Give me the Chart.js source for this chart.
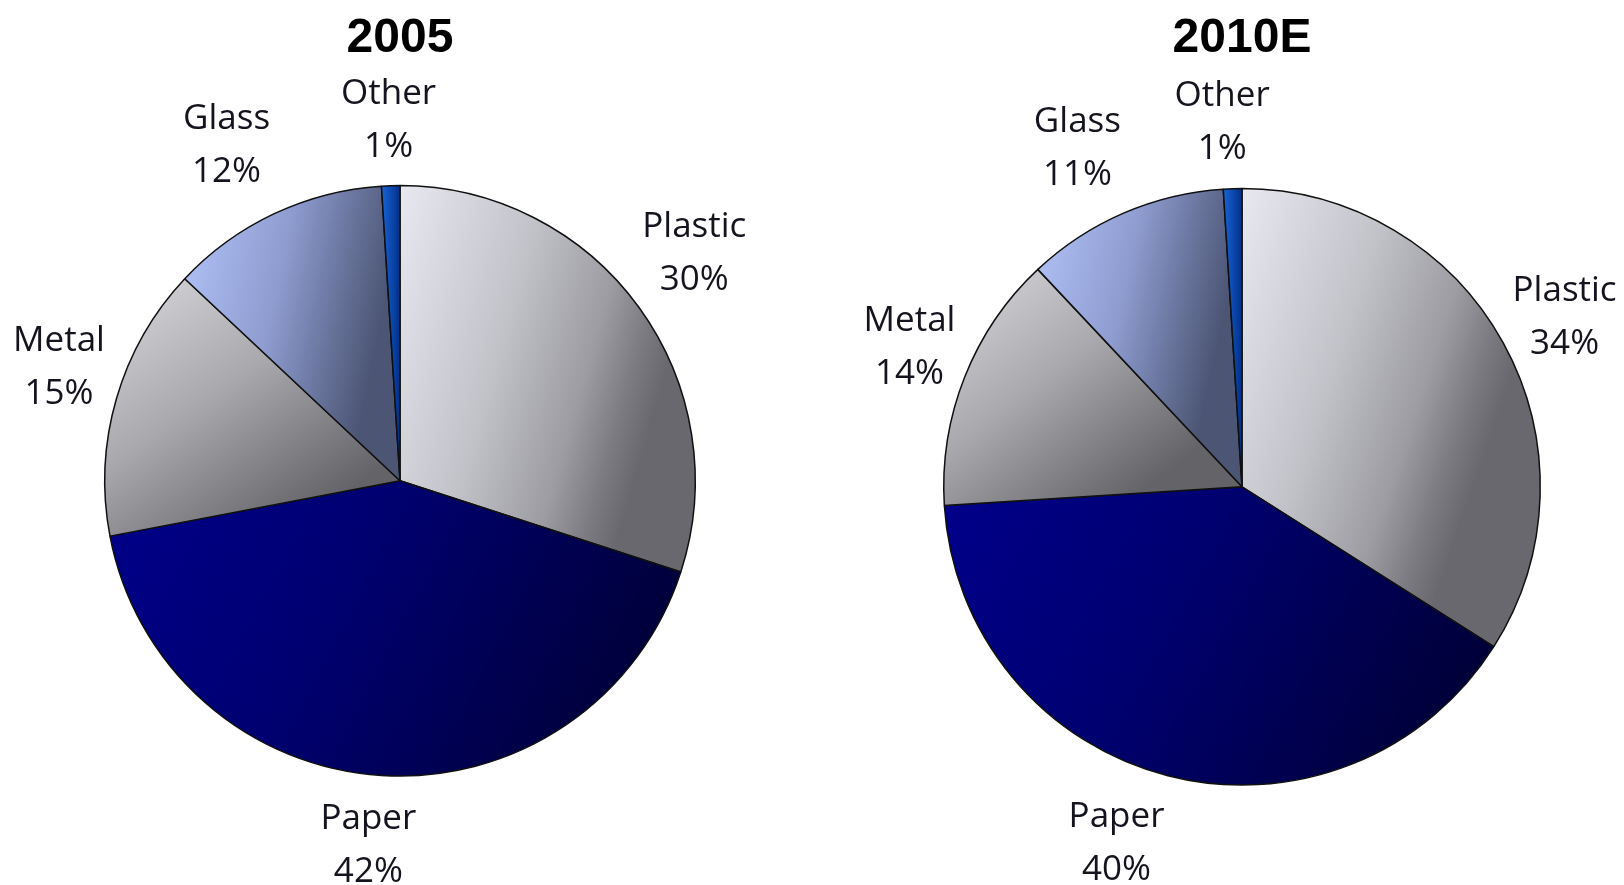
<!DOCTYPE html>
<html>
<head>
<meta charset="utf-8">
<title>Packaging material mix</title>
<script src="https://cdn.jsdelivr.net/npm/chart.js@4/dist/chart.umd.min.js"></script>
<style>
  html, body { margin: 0; padding: 0; background: #ffffff; }
  #wrap { position: relative; width: 1624px; height: 885px; overflow: hidden; }
  #wrap canvas { position: absolute; top: 0; }
</style>
</head>
<body>
<div id="wrap">
  <canvas id="pie2005" width="812" height="885" style="left:0px"></canvas>
  <canvas id="pie2010" width="812" height="885" style="left:812px"></canvas>
</div>
<script>
// Material categories, in slice order (clockwise from 12 o'clock)
const categories = ['Plastic', 'Paper', 'Metal', 'Glass', 'Other'];

// Share of each material, percent
const share2005 = [30, 42, 15, 12, 1];
const share2010E = [34, 40, 14, 11, 1];

// Chart headings
const years = ['2005', '2010E'];

// Shaded fills for each material: gradient direction (in slice bounding-box units) and colour stops
const sliceFills = {
  Plastic: { dir: [1, 0.22], stops: [[0, '#e8e9f0'], [0.45, '#c2c3c9'], [0.75, '#9c9ca2'], [0.9, '#7a7a80'], [1, '#68686e']] },
  Paper:   { dir: [1, 1],    stops: [[0, '#00008a'], [0.4, '#000070'], [1, '#00002c']] },
  Metal:   { dir: [0.6, 1],  stops: [[0, '#dadade'], [0.5, '#a8a8ad'], [1, '#646468']] },
  Glass:   { dir: [1, 0.15], stops: [[0, '#b4c4f8'], [0.5, '#8e9cd0'], [1, '#4c5574']] },
  Other:   { dir: [1, 0],    stops: [[0, '#1a64d8'], [1, '#003088']] }
};

const BORDER_W = 1.5;

// Bounding box of a pie slice (angles in canvas radians, clockwise)
function sliceBox(cx, cy, r, a0, a1) {
  const xs = [cx, cx + r * Math.cos(a0), cx + r * Math.cos(a1)];
  const ys = [cy, cy + r * Math.sin(a0), cy + r * Math.sin(a1)];
  for (let k = -4; k <= 8; k++) {
    const a = k * Math.PI / 2;
    if (a > a0 && a < a1) {
      xs.push(cx + r * Math.cos(a));
      ys.push(cy + r * Math.sin(a));
    }
  }
  return { minX: Math.min(...xs), maxX: Math.max(...xs), minY: Math.min(...ys), maxY: Math.max(...ys) };
}

function sliceGradient(context) {
  const chart = context.chart;
  const i = context.dataIndex;
  const label = chart.data.labels[i];
  const spec = sliceFills[label] || sliceFills.Other;
  const area = chart.chartArea;
  if (!area || i === undefined) return spec.stops[0][1];
  const values = context.dataset.data;
  const total = values.reduce((s, v) => s + v, 0);
  let before = 0;
  for (let k = 0; k < i; k++) before += values[k];
  const a0 = -Math.PI / 2 + 2 * Math.PI * before / total;
  const a1 = a0 + 2 * Math.PI * values[i] / total;
  const cx = (area.left + area.right) / 2;
  const cy = (area.top + area.bottom) / 2;
  const r = (Math.min(area.right - area.left, area.bottom - area.top) - BORDER_W) / 2;
  const b = sliceBox(cx, cy, r, a0, a1);
  const w = b.maxX - b.minX, h = b.maxY - b.minY;
  const g = chart.ctx.createLinearGradient(b.minX, b.minY, b.minX + spec.dir[0] * w, b.minY + spec.dir[1] * h);
  spec.stops.forEach(([t, c]) => g.addColorStop(t, c));
  return g;
}

// Two-line outside labels: category name, then percentage
const sliceLabels = {
  id: 'sliceLabels',
  afterDatasetsDraw(chart, args, opts) {
    const meta = chart.getDatasetMeta(0);
    const data = chart.data.datasets[0].data;
    const c = chart.ctx;
    c.save();
    c.font = '35px "Open Sans", sans-serif';
    c.fillStyle = '#14141e';
    c.textAlign = 'center';
    c.textBaseline = 'alphabetic';
    meta.data.forEach((arc, i) => {
      const p = arc.getProps(['x', 'y', 'startAngle', 'endAngle', 'outerRadius'], true);
      const place = opts.placement[i];
      const mid = (p.startAngle + p.endAngle) / 2 + place[0] * Math.PI / 180;
      const d = p.outerRadius * place[1];
      const lx = p.x + Math.cos(mid) * d;
      const ly = p.y + Math.sin(mid) * d;
      c.fillText(chart.data.labels[i], lx, ly - 14);
      c.fillText(data[i] + '%', lx, ly + 39);
    });
    c.restore();
  }
};

function makePie(canvasId, title, values, padding, titleGap, placement) {
  return new Chart(document.getElementById(canvasId), {
    type: 'pie',
    data: {
      labels: categories,
      datasets: [{
        data: values,
        backgroundColor: sliceGradient,
        borderColor: '#101010',
        borderWidth: BORDER_W
      }]
    },
    options: {
      responsive: false,
      animation: false,
      events: [],
      layout: { padding: padding },
      plugins: {
        legend: { display: false },
        tooltip: { enabled: false },
        title: {
          display: true,
          text: title,
          color: '#000000',
          font: { family: '"Liberation Sans", Arial, sans-serif', size: 48, weight: 'bold', lineHeight: 1.2 },
          padding: { top: 10, bottom: titleGap }
        },
        sliceLabels: { placement: placement }
      }
    },
    plugins: [sliceLabels]
  });
}

// placement: [angle nudge in degrees, distance as a multiple of the radius]
makePie('pie2005', years[0], share2005,
  { left: 104, right: 116, top: 0, bottom: 107 }, 116,
  [[-2, 1.265], [1.4, 1.23], [2.6, 1.22], [-2, 1.285], [0, 1.23]]);

makePie('pie2010', years[1], share2010E,
  { left: 131, right: 83, top: 0, bottom: 99 }, 120,
  [[0.8, 1.225], [5.1, 1.26], [1.5, 1.212], [-2.4, 1.268], [-1.3, 1.232]]);
</script>
</body>
</html>
